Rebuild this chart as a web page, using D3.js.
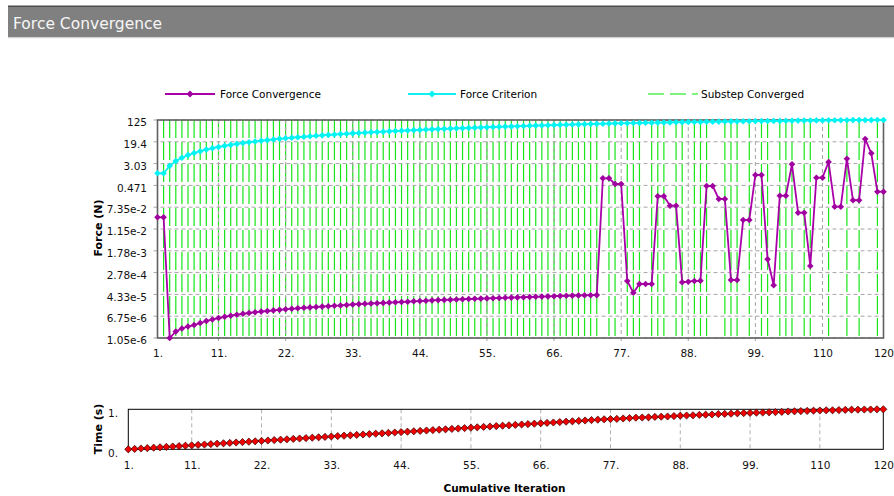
<!DOCTYPE html>
<html><head><meta charset="utf-8">
<script src="https://cdn.jsdelivr.net/npm/d3@7"></script>
<style>
body{margin:0;background:#fff;}
svg{display:block;font-family:"DejaVu Sans",Verdana,sans-serif;}
</style></head><body>
<svg id="c" width="894" height="496"></svg>
<script>
// ---------- data ----------
const iterations = d3.range(1, 121);
const forceConvergence = [
 0.0311, 0.0311, 1.05e-6, 1.83e-6, 2.36e-6, 2.80e-6, 3.18e-6, 3.77e-6, 4.48e-6, 5.09e-6,
 5.78e-6, 6.40e-6, 7.04e-6, 7.66e-6, 8.27e-6, 8.86e-6, 9.48e-6, 9.98e-6, 1.05e-5, 1.105e-5,
 1.16e-5, 1.215e-5, 1.27e-5, 1.32e-5, 1.38e-5, 1.43e-5, 1.48e-5, 1.53e-5, 1.58e-5, 1.64e-5,
 1.69e-5, 1.75e-5, 1.84e-5, 1.89e-5, 1.94e-5, 1.99e-5, 2.04e-5, 2.10e-5, 2.15e-5, 2.21e-5,
 2.26e-5, 2.32e-5, 2.40e-5, 2.46e-5, 2.53e-5, 2.60e-5, 2.66e-5, 2.71e-5, 2.75e-5, 2.80e-5,
 2.87e-5, 2.92e-5, 2.97e-5, 3.03e-5, 3.08e-5, 3.13e-5, 3.18e-5, 3.24e-5, 3.29e-5, 3.35e-5,
 3.41e-5, 3.47e-5, 3.53e-5, 3.59e-5, 3.65e-5, 3.71e-5, 3.78e-5, 3.84e-5, 3.91e-5, 3.98e-5,
 4.01e-5, 4.04e-5, 4.08e-5, 0.866, 0.866, 0.532, 0.532, 1.36e-4, 5.01e-5, 1.05e-4,
 1.05e-4, 1.05e-4, 0.187, 0.187, 0.0836, 0.0836, 1.22e-4, 1.28e-4, 1.36e-4, 1.39e-4,
 0.449, 0.449, 0.148, 0.148, 1.48e-4, 1.48e-4, 0.0247, 0.0247, 1.15, 1.15,
 8.65e-4, 9.41e-5, 0.196, 0.196, 2.86, 0.046, 0.046, 4.88e-4, 0.911, 0.911,
 3.48, 0.0768, 0.0768, 4.61, 0.133, 0.133, 24.7, 7.31, 0.276, 0.276
];
const forceCriterion = [
 1.33, 1.33, 2.5, 3.75, 5.0, 6.25, 7.5, 8.75, 10.0, 11.3,
 12.5, 13.8, 15.0, 16.3, 17.5, 18.8, 20.0, 21.3, 22.5, 23.8,
 25.0, 26.3, 27.5, 28.8, 30.0, 31.3, 32.5, 33.8, 35.0, 36.3,
 37.5, 38.8, 40.0, 41.3, 42.5, 43.8, 45.0, 46.3, 47.5, 48.8,
 50.0, 51.3, 52.5, 53.8, 55.0, 56.3, 57.5, 58.8, 60.0, 61.3,
 62.5, 63.8, 65.0, 66.3, 67.5, 68.8, 70.0, 71.3, 72.5, 73.8,
 75.0, 76.3, 77.5, 78.8, 80.0, 81.3, 82.5, 83.8, 85.0, 86.3,
 87.5, 88.8, 90.0, 91.3, 92.5, 93.8, 94.4, 95.0, 96.3, 97.5,
 98.8, 99.4, 100, 101, 102, 103, 104, 105, 106, 106,
 108, 108, 109, 110, 111, 111, 113, 113, 114, 114,
 115, 116, 116, 117, 118, 119, 119, 120, 121, 121,
 122, 122, 123, 123, 124, 124, 124, 124, 125, 125
];
const timeValues = [
 0.00, 0.01, 0.02, 0.03, 0.04, 0.05, 0.06, 0.07, 0.08, 0.09,
 0.10, 0.11, 0.12, 0.13, 0.14, 0.15, 0.16, 0.17, 0.18, 0.19,
 0.20, 0.21, 0.22, 0.23, 0.24, 0.25, 0.26, 0.27, 0.28, 0.29,
 0.30, 0.31, 0.32, 0.33, 0.34, 0.35, 0.36, 0.37, 0.38, 0.39,
 0.40, 0.41, 0.42, 0.43, 0.44, 0.45, 0.46, 0.47, 0.48, 0.49,
 0.50, 0.51, 0.52, 0.53, 0.54, 0.55, 0.56, 0.57, 0.58, 0.59,
 0.60, 0.61, 0.62, 0.63, 0.64, 0.65, 0.66, 0.67, 0.68, 0.69,
 0.70, 0.71, 0.72, 0.73, 0.74, 0.75, 0.755, 0.76, 0.77, 0.78,
 0.79, 0.795, 0.80, 0.81, 0.815, 0.82, 0.83, 0.84, 0.845, 0.85,
 0.86, 0.865, 0.87, 0.88, 0.885, 0.89, 0.90, 0.905, 0.91, 0.915,
 0.92, 0.925, 0.93, 0.935, 0.945, 0.95, 0.955, 0.96, 0.965, 0.97,
 0.975, 0.975, 0.98, 0.985, 0.99, 0.99, 0.995, 0.995, 1.0, 1.0
];
const substepConverged = d3.range(2, 74).concat([75, 76, 78, 79, 80, 82, 83, 84, 86, 87, 89, 90, 91, 94, 95, 96, 98, 100, 101, 103, 104, 105, 107, 108, 111, 114, 116, 119]);
const xTickValues = [1, 11, 22, 33, 44, 55, 66, 77, 88, 99, 110, 120];
const xTickLabels = ["1.", "11.", "22.", "33.", "44.", "55.", "66.", "77.", "88.", "99.", "110", "120"];
const yTickLabels = ["1.05e-6", "6.75e-6", "4.33e-5", "2.78e-4", "1.78e-3", "1.15e-2", "7.35e-2", "0.471", "3.03", "19.4", "125"];
const yMin = 1.05e-6, yMax = 125;
const timeTickValues = [0, 1];
const timeTickLabels = ["0.", "1."];
const legendItems = ["Force Convergence", "Force Criterion", "Substep Converged"];

// ---------- drawing ----------
const svg = d3.select("#c");
const FS = 10.5;

// title bar
svg.append("rect").attr("x", 8).attr("y", 5.5).attr("width", 886).attr("height", 1.6).attr("fill", "#4d4d4d");
svg.append("rect").attr("x", 8).attr("y", 7).attr("width", 886).attr("height", 30.3).attr("fill", "#808080");
svg.append("rect").attr("x", 8).attr("y", 37.3).attr("width", 886).attr("height", 1).attr("fill", "#d4d4d4");
svg.append("text").attr("x", 13).attr("y", 29).attr("fill", "#f6f6f6").attr("font-size", 15.5).text("Force Convergence");

const M = {l: 157.5, r: 883.5, t: 120, b: 338};
const x = d3.scaleLinear().domain([1, 120]).range([M.l, M.r]);
const y = d3.scaleLog().domain([yMin, yMax]).range([M.b, M.t]);
const lo = Math.log10(yMin), hi = Math.log10(yMax);
const yTickValues = yTickLabels.map((_, k) => Math.pow(10, lo + k * (hi - lo) / 10));

const diamond = r => `M0,${-r}L${r},0L0,${r}L${-r},0Z`;

// substep converged green lines
svg.append("g").selectAll("line").data(substepConverged).join("line")
  .attr("x1", d => x(d)).attr("x2", d => x(d))
  .attr("y1", M.t).attr("y2", M.b)
  .attr("stroke", "#18e618").attr("stroke-width", 1.2).attr("stroke-dasharray", "18,4");

// grid
const grid = svg.append("g").attr("stroke", "#a6a6a6").attr("stroke-width", 1).attr("stroke-dasharray", "4,3");
grid.selectAll(".h").data(yTickValues).join("line").attr("class", "h")
  .attr("x1", M.l - 4).attr("x2", M.r).attr("y1", d => y(d)).attr("y2", d => y(d));
grid.selectAll(".v").data(xTickValues.slice(1, -1)).join("line").attr("class", "v")
  .attr("x1", d => x(d)).attr("x2", d => x(d)).attr("y1", M.t).attr("y2", M.b + 5);

// border
svg.append("rect").attr("x", M.l).attr("y", M.t).attr("width", M.r - M.l).attr("height", M.b - M.t)
  .attr("fill", "none").attr("stroke", "#606060").attr("stroke-width", 1.6);

// axes
const yAxis = d3.axisLeft(y).tickValues(yTickValues).tickFormat((d, i) => yTickLabels[i]).tickSize(0).tickPadding(0);
const gy = svg.append("g").attr("transform", "translate(147,0)").call(yAxis);
const xAxis = d3.axisBottom(x).tickValues(xTickValues).tickFormat((d, i) => xTickLabels[i]).tickSize(0).tickPadding(0);
const gx = svg.append("g").attr("transform", `translate(0,${350})`).call(xAxis);
[gy, gx].forEach(g => {
  g.select(".domain").remove();
  g.selectAll("text").attr("font-size", FS).attr("font-family", "DejaVu Sans").attr("fill", "#111");
});
gy.selectAll("text").attr("dy", "0.55em");

// series
const line = d3.line().x((d, i) => x(iterations[i])).y(d => y(d));
svg.append("path").datum(forceCriterion).attr("d", line).attr("fill", "none").attr("stroke", "#14eeee").attr("stroke-width", 1.8);
svg.append("g").selectAll("path").data(forceCriterion).join("path")
  .attr("d", diamond(3.3)).attr("transform", (d, i) => `translate(${x(iterations[i])},${y(d)})`).attr("fill", "#00f4f4");
svg.append("path").datum(forceConvergence).attr("d", line).attr("fill", "none").attr("stroke", "#aa00aa").attr("stroke-width", 1.8);
svg.append("g").selectAll("path").data(forceConvergence).join("path")
  .attr("d", diamond(3.3)).attr("transform", (d, i) => `translate(${x(iterations[i])},${y(d)})`).attr("fill", "#a000a0");

// legend
const lg = svg.append("g").attr("font-size", FS);
const LY = 94;
lg.append("line").attr("x1", 165).attr("x2", 215).attr("y1", LY).attr("y2", LY).attr("stroke", "#aa00aa").attr("stroke-width", 2);
lg.append("path").attr("d", diamond(3.5)).attr("transform", `translate(190,${LY})`).attr("fill", "#a000a0");
lg.append("text").attr("x", 220).attr("y", LY).attr("dy", "0.36em").text(legendItems[0]);
lg.append("line").attr("x1", 408).attr("x2", 456).attr("y1", LY).attr("y2", LY).attr("stroke", "#14eeee").attr("stroke-width", 2);
lg.append("path").attr("d", diamond(3.5)).attr("transform", `translate(432,${LY})`).attr("fill", "#00f4f4");
lg.append("text").attr("x", 460).attr("y", LY).attr("dy", "0.36em").text(legendItems[1]);
lg.append("line").attr("x1", 648).attr("x2", 698).attr("y1", LY).attr("y2", LY).attr("stroke", "#55ee55").attr("stroke-width", 1.5).attr("stroke-dasharray", "16,6");
lg.append("text").attr("x", 701).attr("y", LY).attr("dy", "0.36em").text(legendItems[2]);

// axis titles
svg.append("text").attr("transform", "translate(98,228) rotate(-90)").attr("text-anchor", "middle").attr("dy", "0.36em")
  .attr("font-size", 11).attr("font-weight", "bold").text("Force (N)");
svg.append("text").attr("transform", "translate(98,429) rotate(-90)").attr("text-anchor", "middle").attr("dy", "0.36em")
  .attr("font-size", 11).attr("font-weight", "bold").text("Time (s)");
svg.append("text").attr("x", 504.5).attr("y", 492).attr("text-anchor", "middle")
  .attr("font-size", 10.5).attr("font-weight", "bold").text("Cumulative Iteration");

// lower time plot
const L = {l: 128.3, r: 883.3, t: 409.3, b: 449.3};
const x2 = d3.scaleLinear().domain([1, 120]).range([L.l, L.r]);
const y2 = d3.scaleLinear().domain([0, 1]).range([L.b, L.t]);
svg.append("g").attr("stroke", "#b0b0b0").attr("stroke-dasharray", "4,3").selectAll("line")
  .data(xTickValues.slice(1, -1)).join("line")
  .attr("x1", d => x2(d)).attr("x2", d => x2(d)).attr("y1", L.t).attr("y2", L.b);
svg.append("rect").attr("x", L.l).attr("y", L.t).attr("width", L.r - L.l).attr("height", L.b - L.t)
  .attr("fill", "none").attr("stroke", "#000").attr("stroke-width", 1);
const gx2 = svg.append("g").attr("transform", "translate(0,462)")
  .call(d3.axisBottom(x2).tickValues(xTickValues).tickFormat((d, i) => xTickLabels[i]).tickSize(0).tickPadding(0));
const gy2 = svg.append("g").attr("transform", "translate(118,0)")
  .call(d3.axisLeft(y2).tickValues(timeTickValues).tickFormat((d, i) => timeTickLabels[i]).tickSize(0).tickPadding(0));
[gx2, gy2].forEach(g => {
  g.select(".domain").remove();
  g.selectAll("text").attr("font-size", FS).attr("font-family", "DejaVu Sans").attr("fill", "#111");
});
gy2.selectAll("text").attr("dy", "0.65em");
const line2 = d3.line().x((d, i) => x2(iterations[i])).y(d => y2(d));
svg.append("path").datum(timeValues).attr("d", line2).attr("fill", "none").attr("stroke", "#444").attr("stroke-width", 1);
svg.append("g").selectAll("path").data(timeValues).join("path")
  .attr("d", diamond(3.6)).attr("transform", (d, i) => `translate(${x2(iterations[i])},${y2(d)})`)
  .attr("fill", "#ee0000").attr("stroke", "#300").attr("stroke-width", 0.7);
</script>
</body></html>
